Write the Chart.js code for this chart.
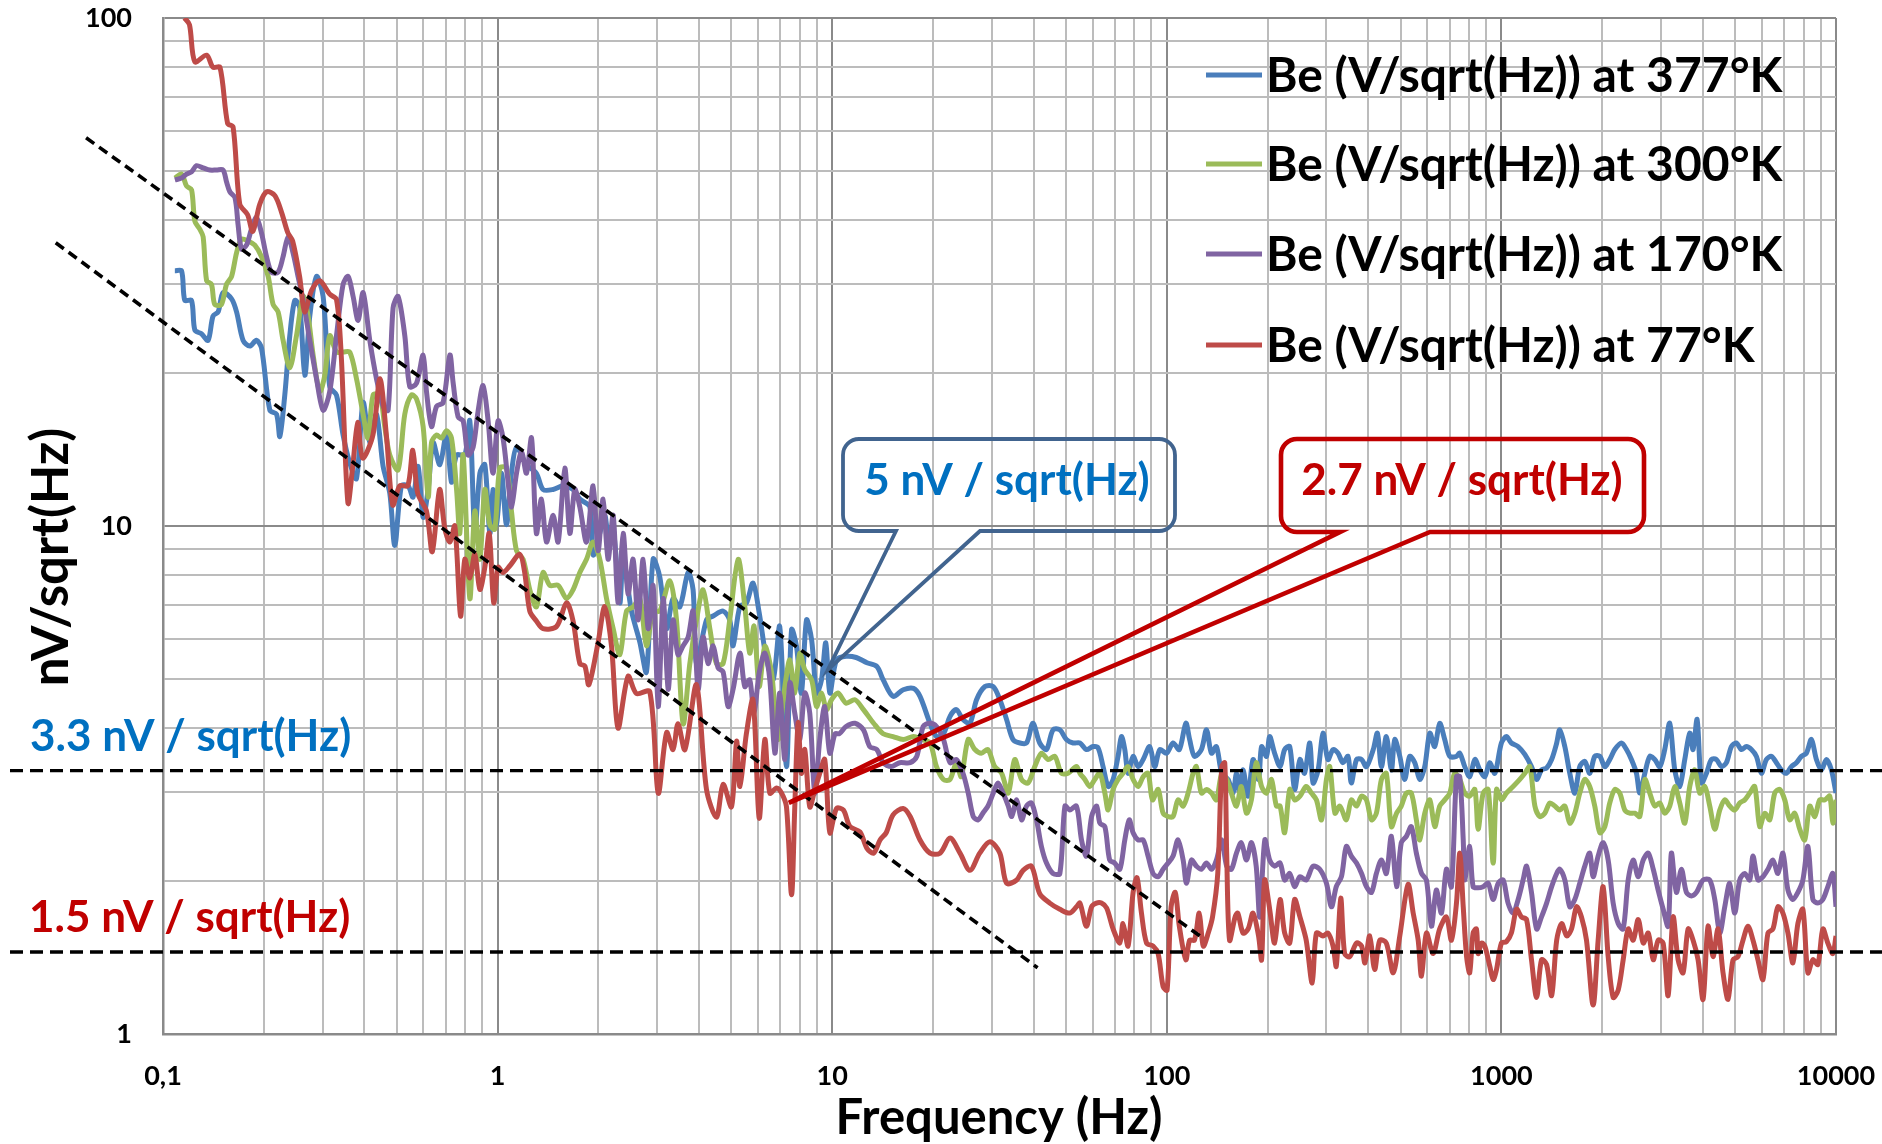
<!DOCTYPE html>
<html>
<head>
<meta charset="utf-8">
<script src="https://cdn.jsdelivr.net/npm/chart.js@4.4.1/dist/chart.umd.min.js"></script>
<style>
  html, body { margin: 0; padding: 0; background: #fff; }
  #chart { display: block; }
</style>
</head>
<body>
<canvas id="chart" width="1882" height="1144"></canvas>
<script>
// axis ticks
const xDecades = [0.1, 1, 10, 100, 1000, 10000];
const xTickLabels = ["0,1", "1", "10", "100", "1000", "10000"];
const yDecades = [1, 10, 100];
const yTickLabels = ["1", "10", "100"];

const seriesLabels = [
  "Be (V/sqrt(Hz)) at 377°K",
  "Be (V/sqrt(Hz)) at 300°K",
  "Be (V/sqrt(Hz)) at 170°K",
  "Be (V/sqrt(Hz)) at 77°K"
];

// [frequency Hz, noise nV/sqrt(Hz)]
const blue377 = [
  [0.1085,31.8],[0.1136,31.8],[0.1162,27.8],[0.1217,27.8],[0.1245,24.3],[0.1303,23.9],[0.1364,23.2],[0.1411,25.9],[0.1462,26.4],[0.1512,28.8],
  [0.1603,28],[0.1659,26.4],[0.1735,23.2],[0.1817,22.6],[0.1902,23.2],[0.197,22.4],[0.2086,16.9],[0.2184,16.6],[0.2234,15],[0.2312,18.1],
  [0.2393,23.7],[0.2477,27.8],[0.2563,26.9],[0.2653,19.8],[0.2746,25.9],[0.2876,31],[0.301,28.3],[0.315,18.8],[0.33,18.1],[0.3453,15.1],
  [0.3616,13.3],[0.3787,12.4],[0.3963,17.5],[0.415,14.6],[0.4345,16.6],[0.4548,13.1],[0.4762,11.6],[0.493,9.16],[0.516,12],[0.54,12],
  [0.559,11.4],[0.5786,13.1],[0.599,10.4],[0.62,11.8],[0.6415,14.6],
  [0.672,13.2],[0.7035,15.2],[0.728,12.2],[0.754,13.8],[0.798,13.8],[0.826,16.1],[0.855,9.67],[0.885,12.7],[0.916,13.2],[0.948,9.67],
  [0.969,11.8],[0.9925,10.06],[1.027,12.7],[1.063,10.06],[1.1,12.7],[1.139,14.3],[1.22,13.2],[1.306,12.7],[1.367,11.8],[1.465,11.8],
  [1.57,12],[1.681,11.8],[1.761,11.3],[1.887,10.9],[1.93,8.77],[2.02,9.67],[2.09,10.5],[2.141,9.67],[2.216,9.87],[2.319,7.06],
  [2.374,8.6],[2.513,6.8],[2.661,5.91],[2.786,5.16],[2.916,8.6],[3.053,7.94],[3.2,6.28],[3.345,7.2],[3.504,6.93],[3.71,8.1],
  [3.84,7.48],[3.93,5.36],[4.21,6.53],[4.406,6.65],[4.72,6.8],[4.94,6.53],[5.056,5.81],
  [5.3,6.95],[5.54,7.05],[5.8,7.72],[6.05,6.75],[6.34,5.54],[6.66,4.98],[6.97,6.34],[7.3,3.36],[7.56,6.25],[7.82,5.8],
  [8.09,4.69],[8.38,6.53],[8.68,5.97],[8.98,4.69],[9.29,4.98],[9.57,5.89],[9.84,4.69],[10.3,5.45],[11,5.54],[11.8,5.51],
  [12.7,5.38],[13.6,5.29],[14.2,4.98],[15.2,4.62],[16.3,4.76],[17.5,4.79],[18.3,4.62],[19.6,4.09],[20.5,3.85],[21.5,3.9],
  [22.5,4.22],[23.5,4.35],[24.6,4.16],[25.8,4.09],[27,4.55],[28.6,4.83],[30.3,4.83],[31.7,4.55],[33.2,4.16],[34.7,3.8],
  [36.4,3.74],[38.1,3.74],[39.8,4.09],[41.7,3.74],[43.7,3.63],[45.7,3.97],[47.9,3.97],[50.1,3.8],[52.5,3.74],
  [55,3.74],[57.5,3.63],[60.2,3.68],[62.3,3.66],[64.5,3.36],[66.8,3.07],[69.1,3.17],[71.5,3.52],[73.2,3.85],[74.9,3.63],
  [76.6,3.26],[79.3,3.52],[82.1,3.36],[85,3.47],[88.9,3.68],[92,3.36],[95.3,3.63],[99.8,3.57],[104.4,3.74],[109,3.63],
  [114,4.09],[117,3.8],[121,3.52],[126.9,3.63],[131.4,3.97],[136,3.57],[140.7,3.68],[146,3.26],[152.5,3.17],[157.8,2.98],
  [161.5,3.26],[165.2,2.98],[169,3.31],[175,2.94],[181,3.47],[188,3.17],[192,3.68],[198.6,3.52],[203,3.85],[210,3.57],
  [218,3.36],[225,3.63],[233,3.68],[241,3.03],[250,3.47],[258,3.26],[267.5,3.74],[273.6,3.12],[283.3,3.31],[293,3.91],
  [303,3.47],[314,3.63],[325,3.57],[336,3.42],[348,3.52],[356,3.12],[369,3.47],[382,3.47],[395,3.36],[414,3.63],
  [426,3.91],[438,3.36],[453,3.85],[469,3.31],[480,3.8],[497,3.52],[514,3.17],[532,3.52],[551,3.42],[570,3.17],
  [590,3.36],[611,3.91],[632,3.68],[654,4.09],[677,3.8],[701,3.52],[734,3.52],
  [751,3.57],[777,3.36],[804,3.21],[833,3.47],[862,3.31],[892,3.21],[923,3.42],[956,3.26],[1000,3.74],[1035,3.85],
  [1071,3.74],[1122,3.68],[1175,3.55],[1230,3.36],[1274,3.17],[1318,3.31],[1365,3.34],[1413,3.47],[1463,3.74],[1494,3.97],
  [1547,3.68],[1601,3.26],[1657,2.98],[1715,3.36],[1775,3.44],[1837,3.26],[1901,3.52],[1968,3.52],[2037,3.36],[2108,3.47],
  [2182,3.63],[2285,3.74],[2365,3.63],[2447,3.47],[2533,3.26],[2592,2.98],[2683,3.26],[2776,3.52],[2873,3.47],[2974,3.36],
  [3077,3.63],[3185,4.09],[3297,3.31],[3412,3.07],[3532,3.47],[3655,3.91],[3740,3.63],[3845,4.16],[3961,3.12],[4101,3.26],
  [4243,3.47],[4391,3.47],[4545,3.36],[4704,3.42],[4868,3.68],[5039,3.74],[5215,3.63],[5398,3.68],[5587,3.63],[5782,3.52],
  [5985,3.26],[6194,3.47],[6412,3.52],[6636,3.42],[6868,3.31],[7109,3.26],[7357,3.36],[7615,3.42],[7881,3.52],[8157,3.57],
  [8443,3.8],[8738,3.47],[9045,3.31],[9361,3.47],[9687,3.31],[10000,2.98]
];

const green300 = [
  [0.1085,48.4],[0.1136,49.3],[0.1176,46.7],[0.1217,45.9],[0.1245,39.8],[0.1288,38.4],[0.1318,37.1],[0.135,30.4],[0.1396,29.9],[0.1428,27.3],
  [0.1495,27.3],[0.1548,29.9],[0.1603,31],[0.1659,34.5],[0.1716,36.7],[0.1796,36.4],[0.1881,35.7],[0.197,33.9],[0.2062,31],[0.2133,27.3],
  [0.2208,26.4],[0.2285,23.2],[0.2393,20.5],[0.2506,23.7],[0.2623,28.3],[0.2714,25.9],[0.281,21.7],[0.294,18.4],[0.3045,19.8],[0.315,23.7],
  [0.33,22],[0.3453,22],[0.3616,22],[0.3787,19.5],[0.3963,16.6],[0.41,14.9],[0.4246,18.1],[0.4446,18.1],[0.46,15.7],[0.4762,13.8],
  [0.5042,12.9],[0.528,16.6],[0.5527,18.1],[0.5723,17.8],[0.599,15.7],[0.62,11.4],[0.6346,14.6],[0.657,15.1],[0.68,14.9],[0.7035,15.4],
  [0.728,14.9],
  [0.754,11.8],[0.771,9.67],[0.789,13.8],[0.826,7.2],[0.855,10.7],[0.885,8.6],[0.916,11.8],[0.948,10.06],[0.981,9.86],[1.015,13],
  [1.063,13],[1.1,10.7],[1.139,8.94],[1.192,8.6],[1.248,7.49],[1.306,6.93],[1.367,8.1],[1.432,7.64],[1.517,7.64],[1.607,7.2],
  [1.681,7.49],[1.761,8.1],[1.844,8.6],[1.93,9.3],[2.02,8.6],[2.116,7.2],[2.215,6.28],[2.319,5.58],[2.428,6.8],[2.541,6.93],
  [2.661,7.2],[2.786,5.81],[2.916,6.8],[3.053,6.8],[3.27,7.8],[3.425,6.53],[3.585,4.08],[3.754,5.36],[3.93,6.53],[4.114,7.49],
  [4.308,6.28],[4.51,5.36],[4.72,5.36],[4.94,6.53],[5.235,8.6],
  [5.48,6.95],[5.67,5.62],[5.84,6.35],[6.05,4.83],[6.29,5.8],[6.59,5.14],[6.89,3.8],[7.22,4.83],[7.47,5.45],[7.73,4.69],
  [8,5.62],[8.28,5.21],[8.68,4.98],[8.98,4.41],[9.29,4.69],[9.62,4.35],[9.95,4.55],[10.4,4.69],[11,4.48],[11.7,4.55],
  [12.4,4.35],[13.3,4.09],[14.2,3.9],[15.2,3.85],[16.3,3.8],[17.5,3.85],[18.5,3.8],[19.6,3.74],[20.5,3.36],[21.5,3.17],
  [22.5,3.17],[23.5,3.42],[24.3,3.21],[25.5,3.8],[26.7,3.63],[27.9,3.57],[29.2,3.63],[30.6,3.36],[32.1,3.26],[33.6,2.98],
  [35.1,3.47],[36.8,3.17],[38.5,3.12],[40.3,3.36],[42.2,3.57],[44.2,3.47],[46.3,3.52],[48.4,3.26],[50.7,3.26],[53.7,3.36],
  [55,3.26],[56.9,3.17],[58.9,3.07],[60.9,3.17],[63.1,3.26],[65.3,2.98],[66.8,2.76],[69.1,3.03],[71.5,3.17],[74,3.26],
  [76.6,3.36],[79.3,3.17],[82.1,3.07],[85,3.21],[87.9,3.26],[90.6,2.89],[94.2,3.03],[97.5,2.72],[100.9,2.68],[104.4,2.68],
  [108,2.89],[111.9,2.81],[115.8,2.98],[119.8,3.26],[122.6,3.36],[126.9,2.98],[131.4,3.03],[136,2.98],[140.7,2.89],[146,3.26],
  [151,3.17],[156,2.98],[161.5,2.81],[167,3.07],[173,2.72],[179,2.89],[185,3.42],[192,3.07],[198.6,2.98],[205.5,3.17],
  [212.6,2.81],[218,2.81],[225,2.49],[233,3.03],[241,2.89],[250,2.94],[261,3.07],[270.5,2.98],[280,2.89],[290,2.64],
  [300,3.17],[307,3.36],[318,2.72],[329,2.81],[344,2.64],[356,2.89],[369,2.81],[382,2.94],[395,2.89],[409,2.64],
  [423,2.72],[438,3.17],[453,3.26],[469,2.56],[486,2.72],[502,2.81],[520,2.98],[538,2.98],[557,2.64],[570,2.41],
  [590,2.72],[611,2.89],[632,2.56],[654,2.81],[677,2.89],[701,2.98],[725,3.26],[751,3.17],
  [777,2.98],[804,2.94],[833,3.03],[852,2.53],[882,2.98],[913,3.03],[945,2.17],[967,3.03],[1000,2.89],[1035,2.98],
  [1084,3.07],[1135,3.17],[1175,3.26],[1216,3.36],[1259,2.81],[1302,2.68],[1348,2.72],[1395,2.85],[1444,2.81],[1494,2.76],
  [1547,2.81],[1601,2.6],[1657,2.72],[1715,2.98],[1775,3.17],[1837,3.07],[1901,2.81],[1968,2.49],[2037,2.56],[2108,2.85],
  [2182,3.03],[2258,2.98],[2338,2.76],[2419,2.72],[2504,2.72],[2592,2.68],[2683,3.17],[2776,2.98],[2873,2.81],[2974,2.85],
  [3077,2.72],[3185,2.81],[3297,3.07],[3412,2.85],[3532,2.6],[3655,3.07],[3784,3.31],[3916,2.98],[4054,3.07],[4195,2.81],
  [4342,2.53],[4494,2.76],[4651,2.89],[4813,2.81],[4982,2.76],[5156,2.85],[5337,2.89],[5524,2.98],[5717,3.07],[5917,2.56],
  [6124,2.72],[6339,2.64],[6560,2.98],[6790,3.03],[7027,2.89],[7273,2.64],[7528,2.72],[7791,2.53],[8064,2.41],[8346,2.81],
  [8638,2.68],[8941,2.89],[9254,2.89],[9578,2.94],[9785,2.6],[10000,2.89]
];

const purple170 = [
  [0.1085,48],[0.1136,48.4],[0.1176,49.3],[0.1217,49.8],[0.1259,51.2],[0.1318,50.7],[0.138,50.2],[0.1445,50.2],[0.1512,50.2],[0.1548,47.6],
  [0.1584,45.5],[0.1641,44.3],[0.1677,39.1],[0.1716,35.1],[0.1776,35.7],[0.1838,38.4],[0.1902,40.5],[0.197,37.7],[0.2039,33.9],[0.211,31.6],
  [0.2208,31.6],[0.2285,33.9],[0.2365,37.1],[0.2447,34.5],[0.2533,31],[0.2623,27.8],[0.2746,23.2],[0.2876,19.5],[0.301,16.9],[0.315,18.4],
  [0.33,23.7],[0.3453,29.9],[0.3574,31],[0.37,28.3],[0.3829,25.4],[0.3963,28.8],[0.415,23.2],[0.4345,19.5],[0.4548,17.2],[0.4708,16.9],
  [0.4872,26.9],[0.5042,28.3],[0.528,23.7],[0.5463,18.8],[0.5723,19.1],[0.599,21.7],[0.613,18.4],[0.6346,15.7],[0.657,17.2],[0.6873,17.5],
  [0.72,21.7],
  [0.736,19.2],[0.762,16.4],[0.789,16.1],[0.816,13.8],[0.845,14.3],[0.874,16.8],[0.905,18.9],[0.937,16.1],[0.969,12.7],[1.003,16.1],
  [1.038,14.9],[1.075,12.2],[1.1,10.9],[1.139,12.7],[1.179,14],[1.22,12.7],[1.263,14.9],[1.306,9.67],[1.352,11.3],[1.4,9.3],
  [1.465,10.5],[1.517,9.3],[1.588,13],[1.644,9.67],[1.701,11.8],[1.761,10.9],[1.844,9.3],[1.93,12],[1.997,8.94],[2.067,11.3],
  [2.139,8.6],[2.215,10.5],[2.29,7.07],[2.372,9.67],[2.455,7.35],[2.541,8.6],[2.63,6.53],[2.722,8.6],[2.818,6.28],[2.916,7.63],
  [3.02,4.41],[3.125,7.2],[3.234,4.77],[3.345,6.53],[3.46,5.58],[3.585,5.81],[3.71,6.04],[3.84,6.8],[3.974,4.77],[4.114,6.04],
  [4.257,5.36],[4.406,5.81],[4.56,5.26],[4.72,5.16],[4.886,4.41],[5.056,4.77],
  [5.3,5.62],[5.48,4.83],[5.67,4.98],[5.84,4.28],[6.05,5.14],[6.29,5.62],[6.51,4.98],[6.74,3.57],[6.97,4.69],[7.22,3.47],
  [7.47,4.91],[7.73,4.28],[8,3.8],[8.28,4.69],[8.57,4.28],[8.87,2.98],[9.18,3.8],[9.5,4.41],[9.84,3.57],[10.2,3.9],
  [10.5,3.9],[11,4.03],[11.7,4.09],[12.4,3.97],[12.95,3.68],[13.6,3.63],[14.2,3.42],[15,3.36],[15.9,3.42],[17.1,3.42],
  [17.9,3.52],[18.7,4.03],[19.6,4.09],[20.5,4.03],[21.5,3.8],[22.5,3.42],[23.5,3.47],[24.6,3.26],[25.5,2.98],[26.4,2.68],
  [27.3,2.64],[28.2,2.72],[29.2,2.81],[30.3,2.98],[31.3,3.12],[32.4,2.98],[33.6,2.81],[34.4,2.68],[35.6,2.89],[36.8,2.64],
  [38.1,2.81],[39.4,2.85],[40.8,2.64],[42.2,2.34],[43.7,2.17],[45.7,2.07],[47.9,2.07],[49.6,2.81],[51.3,2.76],[53.7,2.81],
  [55.6,2.41],[57.5,2.24],[59.6,2.68],[61.7,2.81],[63.1,2.6],
  [65.3,2.56],[67.5,2.2],[69.9,2.17],[72.4,2.11],[74.9,2.41],[77.2,2.64],[79.3,2.49],[82.1,2.41],[85,2.41],[87.9,2.24],
  [91,2.07],[94.2,2.04],[97.5,2.11],[100.9,2.17],[104.4,2.24],[108,2.41],[111.9,2.2],[114.5,1.98],[118.5,2.2],[122.6,2.14],
  [126.9,2.11],[131.4,2.17],[136,2.11],[140.7,2.2],[146,2.41],[151,2.14],[156,2.11],[161.5,2.27],[167,2.38],[173,2.2],
  [179,2.38],[185,2.14],[189.6,1.7],[196.3,2.41],[203,2.2],[210,2.14],[218,2.17],[225,2.01],[233,2.07],[241,1.95],
  [250,2.04],[261,2.01],[273.6,2.14],[286.5,2.11],[300,1.98],[310.5,1.78],[321,1.95],[332.6,2.04],[344,2.34],[356,2.24],
  [369,2.17],[382,2.07],[395,1.95],[409,1.9],[423,2.07],[438,2.2],[453,2.07],[469,2.45],[486,1.95],[502,2.38],
  [520,2.45],[538,2.56],[557,2.27],[577,2.07],[597,2.01],[618,1.63],[639,1.92],[662,1.73],[685,2.11],[709,1.95],
  [734,3.21],[751,3.21],[769,2.41],[777,2.01],[804,2.34],[823,1.95],[852,1.94],[882,1.95],[913,1.98],[945,1.84],
  [978,1.98],[1012,2.01],[1047,1.81],[1084,1.73],[1122,1.84],[1161,2.01],[1189,2.14],[1230,1.9],[1274,1.61],[1318,1.7],
  [1365,1.81],[1413,1.95],[1463,2.07],[1494,2.11],[1547,2.01],[1601,1.78],[1657,1.84],[1715,1.98],[1775,2.14],[1837,2.27],
  [1880,2.04],[1946,2.24],[2014,2.38],[2085,2.2],[2158,1.81],[2234,1.65],[2312,1.61],[2393,2.01],[2477,2.2],[2564,2.04],
  [2654,2.2],[2747,2.27],[2843,2.11],[2941,1.92],[3044,1.76],[3150,1.63],[3221,2.27],[3334,1.9],[3451,2.11],[3572,1.9],
  [3697,1.87],[3827,1.9],[4006,2.01],[4195,2.01],[4342,1.84],[4494,1.58],[4651,1.78],[4813,1.98],[4982,1.73],[5156,2.01],
  [5337,2.07],[5524,2.01],[5648,2.24],[5845,2.01],[6049,2.04],[6261,2.11],[6479,2.2],[6706,2.07],[6940,2.27],[7183,1.92],
  [7434,1.84],[7693,1.9],[7962,2.01],[8241,2.34],[8529,1.84],[8827,1.81],[9135,1.84],[9454,1.95],[9785,2.07],[10000,1.78]
];

const red77 = [
  [0.116,100],[0.12,97],[0.1245,82],[0.135,84.5],[0.141,80],[0.148,80],[0.156,62],[0.162,61],[0.1696,43],[0.179,41],
  [0.1855,38],[0.1946,43],[0.204,45.5],[0.216,44.7],[0.2265,41.3],[0.236,37.8],[0.244,36.4],[0.256,31],[0.265,26.4],[0.278,29.1],
  [0.294,30.4],[0.315,28.6],[0.33,27.9],[0.341,21.6],[0.357,11.1],[0.369,13.1],[0.382,16],[0.395,13.6],[0.424,15.1],[0.445,19.5],
  [0.466,14.9],[0.486,11],[0.51,12],[0.539,12],[0.558,14.1],[0.577,11.6],[0.613,10.7],[0.638,8.9],[0.671,11.8],
  [0.695,9.9],[0.72,9.3],[0.745,10],[0.775,6.65],[0.798,8.6],[0.826,7.9],[0.855,8.8],[0.885,7.5],[0.916,8.3],[0.944,9.67],
  [0.974,7.06],[1.003,8.3],[1.038,8.1],[1.088,8.35],[1.165,8.8],[1.205,8.1],[1.248,6.8],[1.306,6.5],[1.367,6.28],[1.5,6.34],
  [1.607,7.06],[1.681,6.5],[1.761,5.36],[1.823,5.3],[1.874,4.87],[1.997,5.9],[2.09,6.94],[2.19,5.8],[2.29,4],[2.455,5.06],
  [2.6,4.68],[2.85,4.72],[3.02,2.98],[3.2,3.92],[3.345,3.63],[3.46,4.08],[3.63,3.63],[3.93,4.87],[4.21,3.03],[4.51,2.67],
  [4.72,3.1],[5,2.8],[5.18,3.77],
  [5.3,3.07],[5.54,3.9],[5.8,4.55],[6.05,2.66],[6.29,3.8],[6.51,2.98],[6.82,3.05],[7.06,2.98],[7.3,2.8],[7.56,1.88],
  [7.73,2.8],[7.91,4.1],[8.09,3.26],[8.28,3.63],[8.57,2.8],[8.87,3.02],[9.18,3.26],[9.5,3.47],[9.84,2.49],[10.3,2.78],
  [10.8,2.76],[11.3,2.56],[12.1,2.5],[12.7,2.32],[13.3,2.27],[13.9,2.41],[14.5,2.49],[15.2,2.7],[16.3,2.78],[17.1,2.68],
  [18.3,2.41],[19.6,2.27],[21,2.27],[22.5,2.43],[24.1,2.27],[25.8,2.1],[27.6,2.27],[29.6,2.39],[31.7,2.27],[33.2,1.98],
  [35.6,2.01],[37.2,2.1],[39.4,2.14],[41.7,1.89],[44.7,1.81],[47.9,1.76],[51.3,1.73],[53.7,1.78],
  [55,1.81],[57.5,1.63],[59.6,1.78],[61.6,1.81],[63.8,1.81],[66.1,1.77],[69.1,1.61],[72.4,1.51],[74,1.65],[76.6,1.49],
  [79.3,1.9],[81.5,2.03],[84,1.73],[87,1.51],[91,1.49],[94.2,1.44],[97.5,1.24],[100.2,1.22],[103,1.78],[106,1.9],
  [109,1.63],[114,1.4],[117,1.53],[121,1.53],[125,1.73],[128.5,1.49],[133,1.58],[137,1.7],[142,2.07],[146,3.36],
  [149,3.42],[151,2.27],[154,1.53],[160,1.7],[163,1.73],[169,1.58],[175,1.61],[181,1.73],[188,1.56],[192,1.4],
  [196,2.01],[203,1.76],[210,1.51],[218,1.84],[225,1.58],[233,1.51],[241,1.84],[250,1.7],[261,1.53],[272,1.26],
  [280,1.58],[293,1.56],[303,1.58],[314,1.49],[321,1.36],[331,1.85],[340,1.44],[352,1.42],[369,1.51],[382,1.49],
  [391,1.38],[404,1.56],[418,1.34],[433,1.53],[453,1.51],[475,1.32],[497,1.56],[526,1.97],[545,1.73],[564,1.53],
  [577,1.3],[597,1.58],[625,1.44],[654,1.61],[685,1.7],[709,1.53],[734,1.81],[751,2.27],
  [769,1.78],[787,1.42],[804,1.32],[823,1.58],[842,1.61],[852,1.44],[872,1.51],[892,1.49],[923,1.36],[945,1.28],
  [967,1.34],[1000,1.51],[1035,1.52],[1071,1.58],[1110,1.76],[1148,1.7],[1189,1.68],[1230,1.4],[1274,1.18],[1318,1.4],
  [1365,1.37],[1413,1.19],[1463,1.53],[1514,1.65],[1567,1.56],[1620,1.61],[1677,1.78],[1735,1.7],[1796,1.53],[1880,1.14],
  [1946,1.53],[2014,1.95],[2085,1.42],[2158,1.18],[2234,1.22],[2312,1.4],[2393,1.61],[2477,1.53],[2564,1.68],[2654,1.51],
  [2747,1.58],[2843,1.4],[2941,1.53],[3044,1.51],[3150,1.19],[3260,1.7],[3374,1.4],[3492,1.32],[3614,1.61],[3740,1.53],
  [3871,1.4],[4006,1.17],[4146,1.63],[4291,1.42],[4441,1.61],[4596,1.32],[4757,1.17],[4923,1.4],[5095,1.42],[5273,1.53],
  [5457,1.63],[5648,1.53],[5845,1.4],[6049,1.28],[6261,1.58],[6479,1.61],[6706,1.78],[6940,1.73],[7183,1.58],[7434,1.38],
  [7693,1.65],[7962,1.76],[8241,1.32],[8529,1.4],[8827,1.37],[9135,1.61],[9454,1.51],[9785,1.44],[10000,1.56]
];

// guide lines in data units
const floorLevels = [3.3, 1.45];
const fitLines = [
  [[0.0589, 58.1], [125.6, 1.56]],
  [[0.0478, 36.1], [41.1, 1.35]]
];

const colors = ["#4A7EBB", "#9BBB59", "#8064A2", "#BE4B48"];
const FONT = "Lato, 'Open Sans', sans-serif";

function logTicks(decades) {
  const t = [];
  decades.forEach((d, i) => {
    t.push({ value: d, major: true });
    if (i < decades.length - 1) {
      for (let m = 2; m <= 9; m++) t.push({ value: d * m, major: false });
    }
  });
  return t;
}

// outline only: the reference shows the grid through the boxes
function callout(ctx, box, base, tip, stroke, lw, text, textColor, textX) {
  const [x1, y1, x2, y2] = box;
  const r = 16;
  ctx.save();
  ctx.beginPath();
  ctx.moveTo(base[0], y2);
  ctx.lineTo(x1 + r, y2);
  ctx.arcTo(x1, y2, x1, y1, r);
  ctx.arcTo(x1, y1, x2, y1, r);
  ctx.arcTo(x2, y1, x2, y2, r);
  ctx.arcTo(x2, y2, x1, y2, r);
  ctx.lineTo(base[1], y2);
  ctx.lineTo(tip[0], tip[1]);
  ctx.closePath();
  ctx.strokeStyle = stroke;
  ctx.lineWidth = lw;
  ctx.lineJoin = "miter";
  ctx.stroke();

  ctx.fillStyle = textColor;
  ctx.font = "bold 44px " + FONT;
  ctx.textAlign = "center";
  ctx.textBaseline = "alphabetic";
  ctx.fillText(text, textX, 495);
  ctx.restore();
}

const overlay = {
  id: "overlay",
  afterDatasetsDraw(chart) {
    const { ctx, scales: { x, y } } = chart;
    const px = v => x.getPixelForValue(v);
    const py = v => y.getPixelForValue(v);
    ctx.save();

    // noise floors
    ctx.strokeStyle = "#000";
    ctx.lineWidth = 3.4;
    ctx.setLineDash([13, 7]);
    floorLevels.forEach(v => {
      ctx.beginPath();
      ctx.moveTo(10, py(v));
      ctx.lineTo(chart.width, py(v));
      ctx.stroke();
    });

    // 1/sqrt(f) slopes
    ctx.lineWidth = 3.6;
    ctx.setLineDash([10, 6]);
    fitLines.forEach(([a, b]) => {
      ctx.beginPath();
      ctx.moveTo(px(a[0]), py(a[1]));
      ctx.lineTo(px(b[0]), py(b[1]));
      ctx.stroke();
    });
    ctx.setLineDash([]);

    // floor labels
    ctx.font = "bold 44px " + FONT;
    ctx.textAlign = "left";
    ctx.textBaseline = "alphabetic";
    ctx.fillStyle = "#0070C0";
    ctx.fillText("3.3 nV / sqrt(Hz)", 30, 751);
    ctx.fillStyle = "#C00000";
    ctx.fillText("1.5 nV / sqrt(Hz)", 29, 932);

    // callouts
    callout(ctx, [843, 439, 1175, 531], [896, 980], [px(9.7), py(5.21)],
      "#41648F", 3.8, "5 nV / sqrt(Hz)", "#0070C0", 1007);
    callout(ctx, [1281, 439, 1644, 532], [1340, 1430], [px(7.42), py(2.85)],
      "#C00000", 4.6, "2.7 nV / sqrt(Hz)", "#C00000", 1462);

    // legend
    const rows = [92, 181, 271, 362];
    chart.data.datasets.forEach((ds, i) => {
      const yb = rows[i];
      ctx.strokeStyle = ds.borderColor;
      ctx.lineWidth = 5;
      ctx.beginPath();
      ctx.moveTo(1206, yb - 17);
      ctx.lineTo(1262, yb - 17);
      ctx.stroke();
      ctx.fillStyle = "#000";
      ctx.font = "bold 48px " + FONT;
      ctx.textAlign = "left";
      ctx.fillText(ds.label, 1266, yb);
    });

    // axis titles
    ctx.fillStyle = "#000";
    ctx.textAlign = "center";
    ctx.font = "bold 49px " + FONT;
    ctx.fillText("Frequency (Hz)", 999, 1134);
    ctx.font = "bold 51px " + FONT;
    ctx.translate(68, 557);
    ctx.rotate(-Math.PI / 2);
    ctx.fillText("nV/sqrt(Hz)", 0, 0);
    ctx.restore();
  }
};

function makeSeries(i, pts) {
  return {
    label: seriesLabels[i],
    data: pts.map(p => ({ x: p[0], y: p[1] })),
    borderColor: colors[i],
    backgroundColor: colors[i],
    borderWidth: 5,
    pointRadius: 0,
    tension: 0.3,
    fill: false,
    order: 3 - i
  };
}

function noPad(s) {
  s.paddingTop = 0;
  s.paddingBottom = 0;
  s.paddingLeft = 0;
  s.paddingRight = 0;
}

function draw() {
  const gridColor = c => (c.tick && c.tick.major) ? "#8a8a8a" : "#bcbcbc";
  new Chart(document.getElementById("chart"), {
    type: "line",
    data: {
      datasets: [
        makeSeries(0, blue377),
        makeSeries(1, green300),
        makeSeries(2, purple170),
        makeSeries(3, red77)
      ]
    },
    options: {
      responsive: false,
      animation: false,
      layout: { padding: { top: 18, right: 46, left: 0, bottom: 0 } },
      plugins: { legend: { display: false }, tooltip: { enabled: false } },
      scales: {
        x: {
          type: "logarithmic",
          min: 0.1,
          max: 10000,
          afterBuildTicks: s => { s.ticks = logTicks(xDecades); },
          afterFit: s => { s.height = 110; noPad(s); },
          ticks: {
            autoSkip: false,
            maxRotation: 0,
            padding: 26,
            color: "#000",
            font: { family: FONT, size: 27, weight: "bold" },
            callback: v => { const i = xDecades.indexOf(v); return i >= 0 ? xTickLabels[i] : ""; }
          },
          grid: { color: gridColor, lineWidth: 2, drawTicks: false },
          border: { color: "#8a8a8a", width: 2.5 }
        },
        y: {
          type: "logarithmic",
          min: 1,
          max: 100,
          afterBuildTicks: s => { s.ticks = logTicks(yDecades); },
          afterFit: s => { s.width = 163; noPad(s); },
          ticks: {
            autoSkip: false,
            padding: 31,
            color: "#000",
            font: { family: FONT, size: 27, weight: "bold" },
            callback: v => { const i = yDecades.indexOf(v); return i >= 0 ? yTickLabels[i] : ""; }
          },
          grid: { color: gridColor, lineWidth: 2, drawTicks: false },
          border: { color: "#8a8a8a", width: 2.5 }
        }
      }
    },
    plugins: [overlay]
  });
}

document.fonts.load("bold 46px Lato").then(draw, draw);
</script>
</body>
</html>
